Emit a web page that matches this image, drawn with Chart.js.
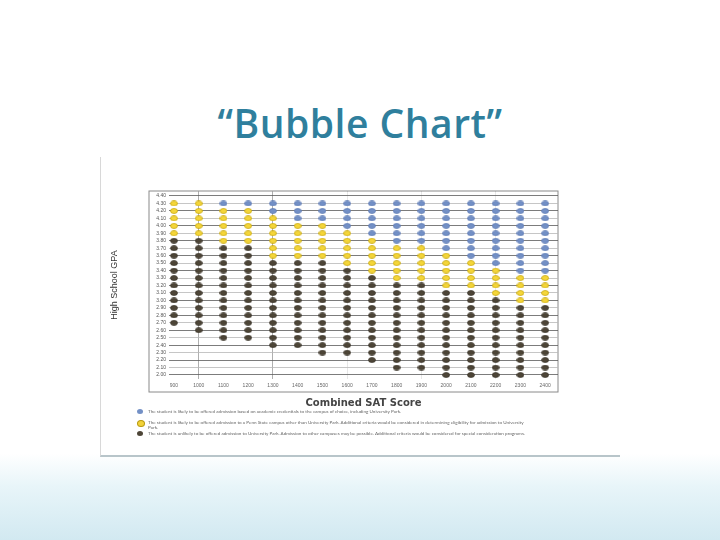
<!DOCTYPE html>
<html>
<head>
<meta charset="utf-8">
<script src="https://cdn.jsdelivr.net/npm/chart.js@4.4.1/dist/chart.umd.min.js"></script>
<style>
  html, body { margin: 0; padding: 0; }
  body {
    width: 720px; height: 540px; position: relative; overflow: hidden;
    background: linear-gradient(to bottom, #ffffff 0%, #ffffff 84%, #e8f5f9 90%, #d2e9f1 100%);
    font-family: Lato, "Open Sans", sans-serif;
  }
  h1 {
    position: absolute; left: 0; top: 96px; width: 720px; margin: 0;
    text-align: center; font: 600 39px "Open Sans", sans-serif; letter-spacing: 0.5px; color: #2f7f9d;
  }
  #scan {
    position: absolute; left: 100px; top: 157px; width: 520px; height: 300px;
    background: #fff; border-left: 1px solid #d8d8d8; border-bottom: 2px solid #b8c5ca;
    box-sizing: border-box;
  }
  #chart { position: absolute; left: 0; top: 0; }
  .row { position: absolute; left: 36px; font-size: 4.6px; line-height: 5px; color: #666; white-space: nowrap; }
  .dot { position: absolute; left: 0; top: 0; width: 6px; height: 5px; border-radius: 50%; }
  .txt { position: absolute; left: 11px; top: 0; }
</style>
</head>
<body>
<h1>“Bubble Chart”</h1>
<div id="scan">
  <canvas id="chart" width="520" height="300"></canvas>
  <div class="row" style="top:252px"><span class="dot" style="background:#7390c6"></span><span class="txt">The student is likely to be offered admission based on academic credentials to the campus of choice, including University Park.</span></div>
  <div class="row" style="top:263px"><span class="dot" style="background:#f2d23a;border:0.5px solid #b89a10"></span><span class="txt">The student is likely to be offered admission to a Penn State campus other than University Park. Additional criteria would be considered in determining eligibility for admission to University<br>Park.</span></div>
  <div class="row" style="top:274px"><span class="dot" style="background:#4d4537"></span><span class="txt">The student is unlikely to be offered admission to University Park. Admission to other campuses may be possible. Additional criteria would be considered for special consideration programs.</span></div>
</div>
<script>
// columns: combined SAT score
const satScores = [900, 1000, 1100, 1200, 1300, 1400, 1500, 1600, 1700, 1800, 1900, 2000, 2100, 2200, 2300, 2400]
// rows: high school GPA tick labels
const gpaTicks = [2.0, 2.1, 2.2, 2.3, 2.4, 2.5, 2.6, 2.7, 2.8, 2.9, 3.0, 3.1, 3.2, 3.3, 3.4, 3.5, 3.6, 3.7, 3.8, 3.9, 4.0, 4.1, 4.2, 4.3, 4.4]
const topGpa = 4.3
// lowest GPA of each band, per SAT column (null = band not present)
const darkFrom   = [2.7, 2.6, 2.5, 2.5, 2.4, 2.4, 2.3, 2.3, 2.2, 2.1, 2.1, 2.0, 2.0, 2.0, 2.0, 2.0]
const yellowFrom = [3.9, 3.9, 3.8, 3.8, 3.6, 3.6, 3.6, 3.5, 3.4, 3.3, 3.3, 3.2, 3.2, 3.1, 3.0, 3.0]
const blueFrom   = [null, null, 4.3, 4.3, 4.2, 4.1, 4.1, 4.0, 3.9, 3.8, 3.8, 3.7, 3.6, 3.5, 3.4, 3.4]

const bluePts = [], yellowPts = [], darkPts = []
const t = v => Math.round(v * 10)
satScores.forEach((sat, i) => {
    gpaTicks.forEach(g => {
        if (t(g) > t(topGpa) || t(g) < t(darkFrom[i])) return
        if (blueFrom[i] !== null && t(g) >= t(blueFrom[i])) bluePts.push({x: sat, y: g})
        else if (t(g) >= t(yellowFrom[i])) yellowPts.push({x: sat, y: g})
        else darkPts.push({x: sat, y: g})
    })
})

// flat oval marker, like the scanned dots
function oval(fill, stroke) {
    const c = document.createElement('canvas')
    c.width = 8; c.height = 6
    const x = c.getContext('2d')
    x.beginPath()
    x.ellipse(4, 3, 3.5, 2.5, 0, 0, Math.PI * 2)
    x.fillStyle = fill
    x.fill()
    x.lineWidth = 0.7
    x.strokeStyle = stroke
    x.stroke()
    return c
}

// outer frame of the plot, drawn round the tick labels
const framePlugin = {
    id: 'frame',
    beforeDraw(chart) {
        const a = chart.chartArea, c = chart.ctx
        c.save()
        c.strokeStyle = '#8a8a8a'
        c.lineWidth = 1
        c.strokeRect(a.left - 20, a.top, a.right - a.left + 20, a.bottom - a.top + 13)
        c.restore()
    }
}

new Chart(document.getElementById('chart'), {
    type: 'scatter',
    data: {
        datasets: [
            { label: 'blue', data: bluePts, pointStyle: oval('#7390c6', '#5b79b1') },
            { label: 'yellow', data: yellowPts, pointStyle: oval('#f5d63a', '#c2a000') },
            { label: 'dark', data: darkPts, pointStyle: oval('#4d4537', '#3a332a') }
        ]
    },
    options: {
        responsive: false,
        animation: false,
        layout: { padding: { left: 8, top: 34, right: 63, bottom: 48 } },
        plugins: { legend: { display: false }, tooltip: { enabled: false } },
        scales: {
            x: {
                type: 'linear', min: 880, max: 2452,
                afterBuildTicks: s => { s.ticks = satScores.map(v => ({ value: v })) },
                afterFit: s => { s.height = 30 },
                border: { display: false },
                grid: {
                    drawTicks: false, lineWidth: 0.8,
                    color: ctx => {
                        const v = ctx.tick && ctx.tick.value
                        if (v === 1000 || v === 1300) return '#9a9a9a'
                        if (v === 1600 || v === 1900 || v === 2200) return 'rgba(0,0,0,0.12)'
                        return 'rgba(0,0,0,0)'
                    }
                },
                ticks: { font: { size: 5 }, color: '#666', padding: 4, autoSkip: false, maxRotation: 0, callback: v => v },
                title: { display: true, text: 'Combined SAT Score', color: '#444',
                         font: { family: 'DejaVu Sans', size: 10, weight: 'bold' }, padding: 0 }
            },
            y: {
                min: 1.946, max: 4.467,
                afterBuildTicks: s => { s.ticks = gpaTicks.map(v => ({ value: v })) },
                afterFit: s => { s.width = 60 },
                border: { display: false },
                grid: {
                    drawTicks: false, lineWidth: 0.8,
                    color: ctx => ctx.index % 2 ? '#b8b8b8' : '#5a5a5a'
                },
                ticks: { font: { size: 5 }, color: '#555', padding: 3, autoSkip: false, callback: v => v.toFixed(2) },
                title: { display: true, text: 'High School GPA', color: '#333',
                         font: { size: 9 }, padding: 0 }
            }
        }
    },
    plugins: [framePlugin]
})
</script>
</body>
</html>
